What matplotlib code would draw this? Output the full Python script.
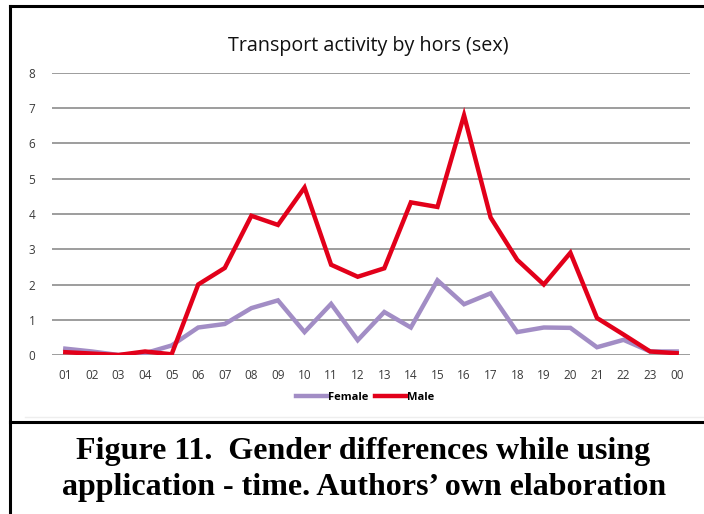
import matplotlib
matplotlib.use('Agg')
import matplotlib.pyplot as plt
from matplotlib.lines import Line2D

hours = ["01", "02", "03", "04", "05", "06", "07", "08", "09", "10", "11", "12",
         "13", "14", "15", "16", "17", "18", "19", "20", "21", "22", "23", "00"]
female = [0.18, 0.10, 0.0, 0.05, 0.27, 0.78, 0.88, 1.33, 1.55, 0.65, 1.45, 0.42,
          1.22, 0.78, 2.12, 1.44, 1.75, 0.65, 0.78, 0.77, 0.22, 0.43, 0.10, 0.10]
male = [0.08, 0.04, 0.0, 0.10, 0.02, 2.0, 2.47, 3.95, 3.69, 4.75, 2.56, 2.22,
        2.46, 4.33, 4.20, 6.80, 3.90, 2.70, 2.0, 2.90, 1.05, 0.58, 0.10, 0.05]

title = "Transport activity by hors (sex)"
caption = ["Figure 11.  Gender differences while using",
           "application - time. Authors\u2019 own elaboration"]

fig = plt.figure(figsize=(7.04, 5.14), dpi=100)
ax = fig.add_axes([52/704, 159/514, 638/704, 282/514])

x = list(range(len(hours)))
ax.plot(x, female, color="#a28dc5", lw=3.2, label="Female", solid_joinstyle="miter")
ax.plot(x, male, color="#e2001a", lw=3.2, label="Male", solid_joinstyle="miter")

ax.set_xlim(-0.5, 23.5)
ax.set_ylim(0, 8)
ax.set_yticks(range(0, 9))
ax.set_xticks(x)
ax.set_xticklabels(hours)
ax.grid(axis="y", color="#8c8c8c", lw=1.2)
ax.set_axisbelow(True)
for s in ax.spines.values():
    s.set_visible(False)
ax.tick_params(length=0, labelsize=8.5, labelcolor="#3a3a3a", pad=10)
for t in ax.get_xticklabels() + ax.get_yticklabels():
    t.set_fontfamily("Open Sans")
ax.tick_params(axis="y", pad=12)

fig.text(368/704, 1 - 46/514, title, ha="center", va="center",
         fontsize=14.2, family="Open Sans", weight="medium", color="#111111")

leg = ax.legend(loc="center", bbox_to_anchor=(365/704, 1 - 397/514),
                bbox_transform=fig.transFigure, ncol=2, frameon=False,
                prop={"family": "Open Sans", "size": 8, "weight": "bold"},
                handlelength=2.8, columnspacing=0.6, handletextpad=0.1)

# frame around chart and caption
fig.add_artist(Line2D([10/704, 10/704], [0, 1 - 6/514], transform=fig.transFigure,
                      color="black", lw=2.2))
fig.add_artist(Line2D([10/704, 1], [1 - 6/514, 1 - 6/514], transform=fig.transFigure,
                      color="black", lw=2.2))
fig.add_artist(Line2D([10/704, 1], [1 - 422/514, 1 - 422/514], transform=fig.transFigure,
                      color="black", lw=2.2))
fig.add_artist(Line2D([25/704, 1], [1 - 417/514, 1 - 417/514], transform=fig.transFigure,
                      color="#eeeeee", lw=1))

fig.text(363/704, 1 - 452/514, caption[0], ha="center", va="center",
         fontsize=23, family="Liberation Serif", weight="bold", color="black")
fig.text(364/704, 1 - 488/514, caption[1], ha="center", va="center",
         fontsize=23, family="Liberation Serif", weight="bold", color="black")

fig.savefig("out.png", dpi=100)
